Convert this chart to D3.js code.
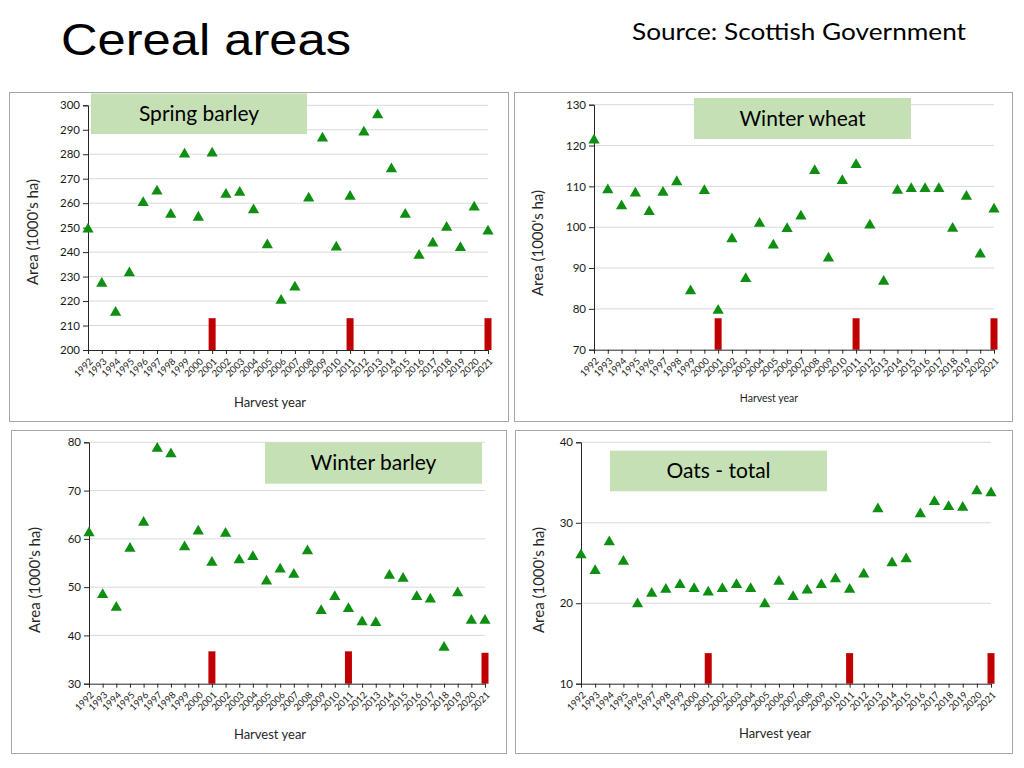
<!DOCTYPE html>
<html><head><meta charset="utf-8">
<script src="https://cdn.jsdelivr.net/npm/d3@7"></script>
<style>body{margin:0;background:#fff}svg{display:block}</style>
</head><body>
<script>
// ---- data ----
const years = [1992,1993,1994,1995,1996,1997,1998,1999,2000,2001,2002,2003,2004,2005,2006,2007,2008,2009,2010,2011,2012,2013,2014,2015,2016,2017,2018,2019,2020,2021];
const springBarley = [249.3,227.2,215.3,231.5,260.2,264.9,255.4,280.0,254.2,280.4,263.5,264.4,257.2,242.9,220.2,225.6,262.0,286.5,242.0,262.7,289.0,296.0,274.0,255.4,238.6,243.6,250.1,241.8,258.3,248.5];
const winterWheat = [121.3,109.1,105.2,108.3,103.8,108.5,111.1,84.4,108.9,79.6,97.1,87.4,100.9,95.6,99.6,102.7,113.8,92.4,111.4,115.3,100.5,86.7,109.0,109.4,109.4,109.4,99.7,107.5,93.4,104.4];
const winterBarley = [61.2,48.4,45.8,58.0,63.4,78.7,77.6,58.3,61.6,55.1,61.1,55.6,56.3,51.2,53.7,52.6,57.5,45.1,48.0,45.5,42.8,42.6,52.4,51.8,48.0,47.5,37.5,48.8,43.1,43.1];
const oats = [26.0,24.05,27.6,25.2,19.9,21.2,21.7,22.3,21.8,21.35,21.8,22.3,21.8,19.9,22.7,20.8,21.6,22.3,23.0,21.7,23.6,31.7,25.0,25.5,31.1,32.6,32.0,31.9,33.95,33.7];
const markerYears = [2001,2011,2021];
const springMarks = [213,213,213];
const wheatMarks = [77.7,77.7,77.7];
const winterBarleyMarks = [36.7,36.7,36.4];
const oatsMarks = [13.8,13.8,13.8];
const springTicks = [200,210,220,230,240,250,260,270,280,290,300];
const wheatTicks = [70,80,90,100,110,120,130];
const winterBarleyTicks = [30,40,50,60,70,80];
const oatsTicks = [10,20,30,40];
const panelTitles = ["Spring barley","Winter wheat","Winter barley","Oats - total"];
const mainTitle = "Cereal areas";
const sourceText = "Source: Scottish Government";
const yLabel = "Area (1000's ha)";
const xLabel = "Harvest year";

// ---- layout ----
const panels = [
  {title:panelTitles[0], values:springBarley, marks:springMarks, ticks:springTicks,
   frame:[9.5,92.5,499,329], px:[88,488], py:[105.3,350], box:[91,93.5,216,40.5],
   yl:[32,232], xl:[270,402,13]},
  {title:panelTitles[1], values:winterWheat, marks:wheatMarks, ticks:wheatTicks,
   frame:[514.5,92.5,498,329], px:[594,994], py:[104.7,349.7], box:[694,98,217,41],
   yl:[537,243], xl:[769,398,10.5]},
  {title:panelTitles[2], values:winterBarley, marks:winterBarleyMarks, ticks:winterBarleyTicks,
   frame:[11.5,430.5,495,323], px:[89,485], py:[442.3,683.7], box:[265,442.3,217,41.4],
   yl:[34,580], xl:[270,734,13]},
  {title:panelTitles[3], values:oats, marks:oatsMarks, ticks:oatsTicks,
   frame:[515.5,430.5,497,323], px:[581,991], py:[442.3,683.7], box:[610,450.7,217,40.6],
   yl:[538,580], xl:[775,733,13]}
];

const svg = d3.select("body").append("svg").attr("width",1024).attr("height",768);
svg.append("rect").attr("width",1024).attr("height",768).attr("fill","#fff");

svg.append("text").attr("x",61).attr("y",55).attr("font-family","Liberation Sans, Arial, sans-serif")
  .attr("font-size",45).attr("fill","#000")
  .attr("textLength",290).attr("lengthAdjust","spacingAndGlyphs").text(mainTitle);
svg.append("text").attr("x",632).attr("y",40).attr("font-family","Lato, sans-serif")
  .attr("font-size",24).attr("fill","#000")
  .attr("textLength",334).attr("lengthAdjust","spacingAndGlyphs").text(sourceText);

const green = "#0e8f12", red = "#c00000";
const font = "Lato, 'Open Sans', sans-serif";

panels.forEach(p => {
  const g = svg.append("g");
  g.append("rect").attr("x",p.frame[0]).attr("y",p.frame[1]).attr("width",p.frame[2]).attr("height",p.frame[3])
    .attr("fill","#fff").attr("stroke","#a6a6a6").attr("stroke-width",1);
  const x = d3.scalePoint().domain(years).range(p.px).padding(0);
  const y = d3.scaleLinear().domain(d3.extent(p.ticks)).range([p.py[1], p.py[0]]);

  // gridlines
  g.append("g").selectAll("line").data(p.ticks.slice(1)).join("line")
    .attr("x1",p.px[0]).attr("x2",p.px[1]).attr("y1",d=>y(d)).attr("y2",d=>y(d))
    .attr("stroke","#d9d9d9").attr("stroke-width",1);

  // title box
  g.append("rect").attr("x",p.box[0]).attr("y",p.box[1]).attr("width",p.box[2]).attr("height",p.box[3])
    .attr("fill","#c5e0b4");
  g.append("text").attr("x",p.box[0]+p.box[2]/2).attr("y",p.box[1]+p.box[3]/2+7)
    .attr("text-anchor","middle").attr("font-family",font).attr("font-size",21).attr("fill","#000").text(p.title);

  // red marker bars
  g.append("g").selectAll("rect").data(markerYears.map((yr,i)=>({yr, v:p.marks[i]}))).join("rect")
    .attr("x",d=>x(d.yr)-3.5).attr("width",7).attr("y",d=>y(d.v)).attr("height",d=>y(p.ticks[0])-y(d.v))
    .attr("fill",red);

  // axes
  const ya = g.append("g").attr("transform",`translate(${p.px[0]},0)`)
    .call(d3.axisLeft(y).tickValues(p.ticks).tickSize(5).tickPadding(3).tickFormat(d3.format("d")));
  ya.select(".domain").attr("stroke","#262626");
  ya.selectAll(".tick line").attr("stroke","#262626");
  ya.selectAll("text").attr("font-family",font).attr("font-size",11.5).attr("fill","#1a1a1a");

  const xa = g.append("g").attr("transform",`translate(0,${p.py[1]})`)
    .call(d3.axisBottom(x).tickSize(4).tickSizeOuter(0));
  xa.select(".domain").attr("stroke","#262626");
  xa.selectAll(".tick line").attr("stroke","#262626");
  xa.selectAll("text").attr("font-family",font).attr("font-size",9.5).attr("fill","#1a1a1a")
    .attr("text-anchor","end").attr("dy",0).attr("y",0)
    .attr("transform","translate(5,12) rotate(-45)");

  // triangles
  g.append("g").selectAll("path").data(years.map((yr,i)=>({yr, v:p.values[i]}))).join("path")
    .attr("d", d3.symbol(d3.symbolTriangle, 55))
    .attr("transform", d=>`translate(${x(d.yr)},${y(d.v)})`)
    .attr("fill",green);

  // axis labels
  g.append("text").attr("transform",`translate(${p.yl[0]},${p.yl[1]}) rotate(-90)`)
    .attr("text-anchor","middle").attr("dominant-baseline","central")
    .attr("font-family",font).attr("font-size",15).attr("fill","#262626").text(yLabel);
  g.append("text").attr("x",p.xl[0]).attr("y",p.xl[1]).attr("text-anchor","middle").attr("dominant-baseline","central")
    .attr("font-family",font).attr("font-size",p.xl[2]).attr("fill","#262626").text(xLabel);
});
</script>
</body></html>
